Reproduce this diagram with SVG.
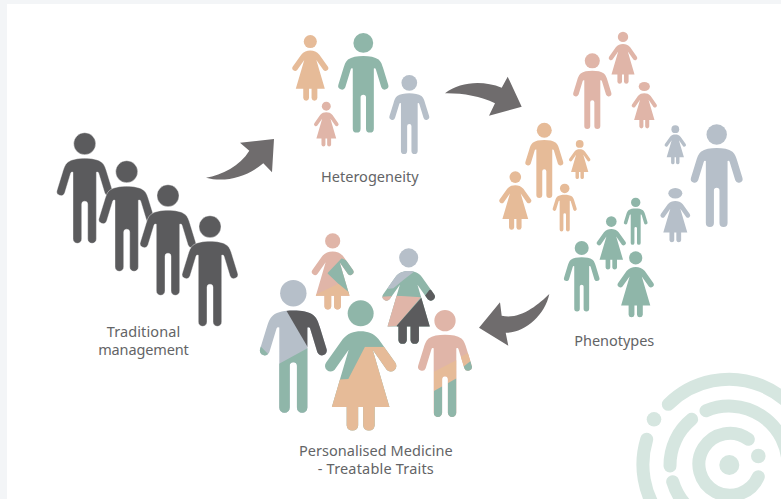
<svg xmlns="http://www.w3.org/2000/svg" width="781" height="499" viewBox="0 0 781 499">
<style>
.t{font-family:"Noto Sans","Open Sans",sans-serif;font-size:14.5px;fill:#636466;text-anchor:middle;lengthAdjust:spacing}
.o{fill:#e6bb98}.p{fill:#e0b5a8}.g{fill:#8fb6a9}.y{fill:#b6bfc9}.d{fill:#5b5b5d}
.logo{fill:none;stroke:#d6e6e0;stroke-width:13;stroke-linecap:round}
.lf{fill:#d6e6e0}
.arrow{fill:#6f6c6d}
</style>
<defs>
<path id="mb" d="M0 25.5C7 25.5 13 26.5 17 29.5C20 32 21 36 22 39L27.7 57.5A4.1 4.1 0 0 1 20 60.3L14 40.5Q13.5 38.8 11.7 39.5L11.7 106.3A4.35 4.35 0 0 1 3 106.3L3 71.5A3 3 0 0 0 -3 71.5L-3 106.3A4.35 4.35 0 0 1 -11.7 106.3L-11.7 39.5Q-13.5 38.8 -14 40.5L-20 60.3A4.1 4.1 0 0 1 -27.7 57.5L-22 39C-21 36 -20 32 -17 29.5C-13 26.5 -7 25.5 0 25.5Z"/>
<g id="man"><circle cy="11" r="11"/><use href="#mb"/></g>
<path id="wb" d="M0 31C7 31 13 33 18 39L34.7 62.5A5.6 5.6 0 0 1 26 69.5L12 49.5L28.8 106.7L14 106.7L14 125.2A5.8 5.8 0 0 1 2.5 125.2L2.5 106.7L-2.5 106.7L-2.5 125.2A5.8 5.8 0 0 1 -14 125.2L-14 106.7L-28.8 106.7L-12 49.5L-26 69.5A5.6 5.6 0 0 1 -34.7 62.5L-18 39C-13 33 -7 31 0 31Z"/>
<g id="woman"><circle cy="13" r="13"/><use href="#wb"/></g>
<clipPath id="c1"><polygon points="108,255 175,370 240,420 240,255"/></clipPath>
<clipPath id="c2"><polygon points="60,431 175,368 175,580 60,580"/><polygon points="20,368 30,362 55,388 55,405 20,405"/></clipPath>
<clipPath id="c3"><polygon points="230,466 295,462 345,365 450,365 450,640 230,640"/></clipPath>
<clipPath id="c4"><polygon points="232,145 275,100 320,120 320,160 288,160 300,212 265,176"/></clipPath>
<clipPath id="c5"><polygon points="190,212 265,176 310,212 310,260 190,260"/></clipPath>
<clipPath id="c6"><polygon points="412,192 440,130 500,130 490,142 460,165 430,190"/></clipPath>
<clipPath id="c7"><polygon points="395,215 443,212 513,217 440,302 395,310"/></clipPath>
<clipPath id="c8"><polygon points="513,220 440,302 440,365 560,365 560,190 538,195 525,212"/></clipPath>
<clipPath id="c9"><polygon points="552,440 620,405 620,460 552,498"/><polygon points="630,397 655,383 662,408 640,425"/></clipPath>
<clipPath id="c10"><polygon points="552,498 620,460 620,585 552,585"/><polygon points="640,425 662,408 672,450 640,450"/></clipPath>
</defs>
<rect width="781" height="499" fill="#f3f5f7"/>
<rect x="7" y="4" width="774" height="495" fill="#fff"/>

<g id="logo">
<path class="logo" d="M748.3 439.3A31 31 0 1 0 758.3 476.7"/>
<path class="logo" d="M691.7 419.3A59 59 0 0 0 670 466"/>
<path class="logo" d="M706 410.7A59 59 0 0 1 788 465"/>
<path class="logo" d="M672.7 481.7A59 59 0 0 0 700 516"/>
<path class="logo" d="M668.3 404.3A86 86 0 0 1 815 465"/>
<path class="logo" d="M646.7 439.3A86 86 0 0 0 660 516"/>
<circle class="lf" cx="729.3" cy="465" r="10"/>
<circle class="lf" cx="758.3" cy="456" r="7.3"/>
<circle class="lf" cx="654" cy="419.3" r="7.3"/>
</g>

<g id="connectors">
<path class="arrow" d="M206 177.7C222 175 240 166 249.3 150.7L240 142.7L274 139L272 172.3L263.3 163.3C247 177 225 183 206 177.7Z"/>
<path class="arrow" d="M445 93.3C460 82 482 80 501.7 87.7L507.7 76.7L521.7 106.7L489 115.7L495 103.3C480 96 462 93 445 93.3Z"/>
<path class="arrow" d="M549.3 294C538 305 520 320 501.7 315.7L500 302.3L479 327.7L508.3 345.7L505.7 332.7C525 333 545 315 549.3 294Z"/>
</g>

<g id="traditional" class="d" stroke="#fff" stroke-width=".4">
<use href="#man" transform="translate(84.7 132.7)"/>
<use href="#man" transform="translate(126.7 160.7)"/>
<use href="#man" transform="translate(168 184.7)"/>
<use href="#man" transform="translate(210 215.7)"/>
</g>
<text class="t" x="143.5" y="337.3" textLength="73.3">Traditional</text>
<text class="t" x="143.5" y="355" textLength="90.7">management</text>

<g id="heterogeneity">
<use href="#woman" class="o" transform="translate(310.3 35) scale(.504)"/>
<use href="#man" class="g" transform="translate(363.3 33) scale(.9)"/>
<use href="#man" class="y" transform="translate(409.3 75) scale(.715)"/>
<use href="#woman" class="p" transform="translate(326.3 101.7) scale(.344)"/>
</g>
<text class="t" x="369.8" y="182.3" textLength="97.7">Heterogeneity</text>

<g id="phenotypes">
<use href="#man" class="p" transform="translate(592.3 53.3) scale(.685)"/>
<use href="#woman" class="p" transform="translate(623 31.7) scale(.4)"/>
<g class="p"><use href="#wb" transform="translate(644.3 82.3) scale(.354)"/><ellipse cx="644.3" cy="86.5" rx="5.6" ry="4.5"/></g>
<use href="#man" class="o" transform="translate(544.3 122.7) scale(.68)"/>
<use href="#woman" class="o" transform="translate(579.7 140) scale(.3)"/>
<use href="#woman" class="o" transform="translate(515.3 171.3) scale(.448)"/>
<use href="#man" class="o" transform="translate(564.7 183.7) scale(.432)"/>
<use href="#woman" class="y" transform="translate(675.3 125.3) scale(.3)"/>
<use href="#man" class="y" transform="translate(716.7 124.3) scale(.928)"/>
<g class="y"><use href="#wb" transform="translate(675.3 188) scale(.417)"/><ellipse cx="675.3" cy="193.3" rx="7" ry="5.2"/></g>
<use href="#man" class="g" transform="translate(635.7 197.7) scale(.426)"/>
<use href="#woman" class="g" transform="translate(611.3 216.3) scale(.408)"/>
<use href="#man" class="g" transform="translate(581.7 241) scale(.637)"/>
<use href="#woman" class="g" transform="translate(635.7 251.3) scale(.507)"/>
</g>
<text class="t" x="614.3" y="345.7" textLength="80">Phenotypes</text>

<g id="personalised" transform="translate(250 225) scale(.33333)">
<g id="p-man">
<use href="#man" class="y" transform="translate(130 165) scale(3.6)"/>
<g clip-path="url(#c1)"><use href="#mb" class="d" transform="translate(130 165) scale(3.6)"/></g>
<g clip-path="url(#c2)"><use href="#mb" class="g" transform="translate(130 165) scale(3.6)"/></g>
</g>
<g id="p-woman-small">
<use href="#woman" class="p" transform="translate(248 25) scale(1.755)"/>
<g clip-path="url(#c4)"><use href="#wb" class="g" transform="translate(248 25) scale(1.755)"/></g>
<g clip-path="url(#c5)"><use href="#wb" class="o" transform="translate(248 25) scale(1.755)"/></g>
</g>
<g id="p-woman-right">
<use href="#wb" class="g" transform="translate(476 70) scale(2.2)"/>
<circle class="y" cx="476" cy="98.6" r="28.6"/>
<g clip-path="url(#c6)"><use href="#wb" class="y" transform="translate(476 70) scale(2.2)"/></g>
<g clip-path="url(#c7)"><use href="#wb" class="p" transform="translate(476 70) scale(2.2)"/></g>
<g clip-path="url(#c8)"><use href="#wb" class="d" transform="translate(476 70) scale(2.2)"/></g>
</g>
<g id="p-boy">
<use href="#man" class="p" transform="translate(585 255) scale(2.9)"/>
<g clip-path="url(#c9)"><use href="#mb" class="o" transform="translate(585 255) scale(2.9)"/></g>
<g clip-path="url(#c10)"><use href="#mb" class="g" transform="translate(585 255) scale(2.9)"/></g>
</g>
<g id="p-woman-big">
<use href="#woman" class="g" transform="translate(332 226) scale(3)"/>
<g clip-path="url(#c3)"><use href="#wb" class="o" transform="translate(332 226) scale(3)"/></g>
</g>
</g>
<text class="t" x="375.8" y="456" textLength="153.7">Personalised Medicine</text>
<text class="t" x="375.8" y="474" textLength="116">- Treatable Traits</text>
</svg>
